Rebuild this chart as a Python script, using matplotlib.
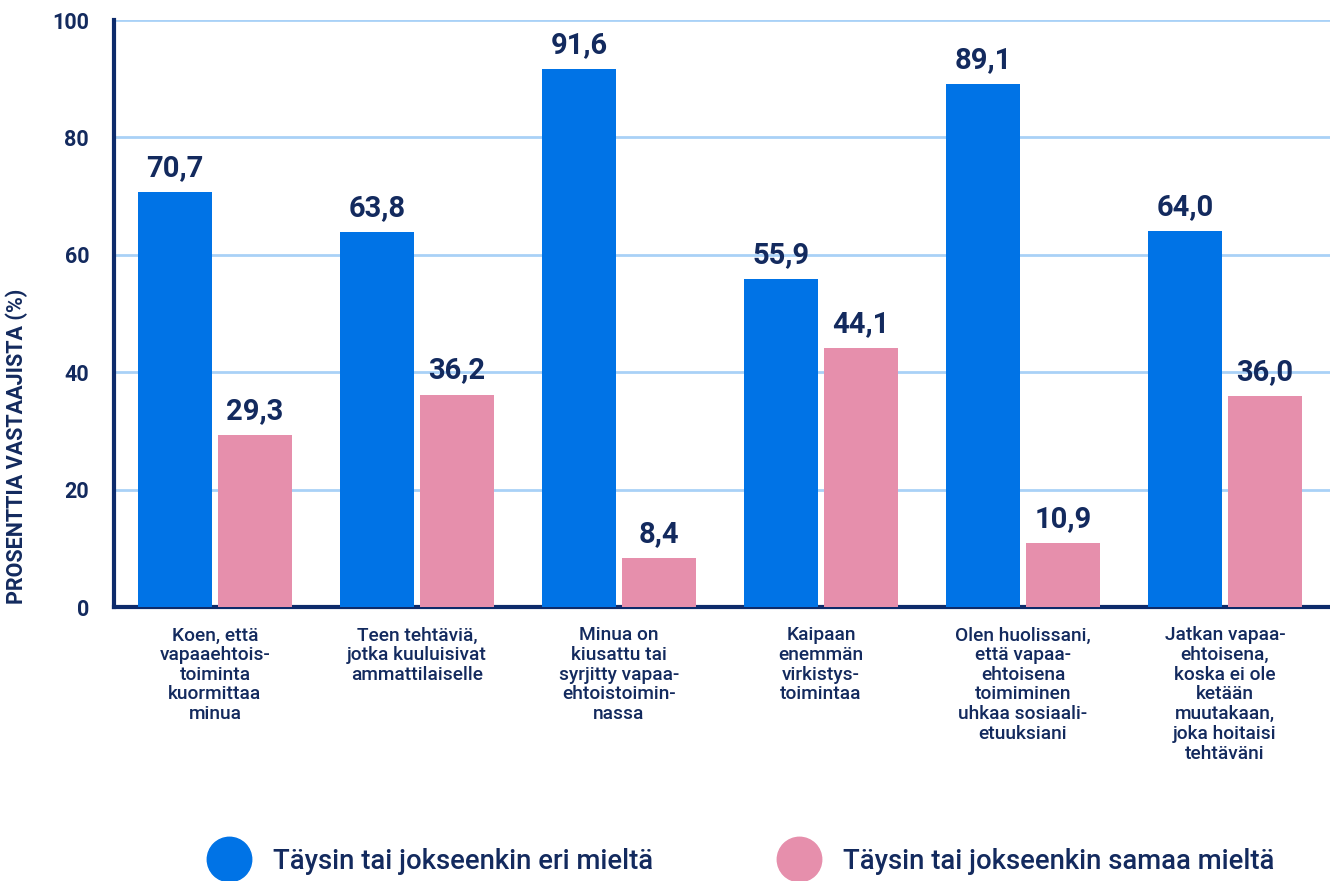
import matplotlib
matplotlib.use("Agg")
import matplotlib.pyplot as plt
from matplotlib.lines import Line2D
import numpy as np

categories = [
    "Koen, että\nvapaaehtois-\ntoiminta\nkuormittaa\nminua",
    "Teen tehtäviä,\njotka kuuluisivat\nammattilaiselle",
    "Minua on\nkiusattu tai\nsyrjitty vapaa-\nehtoistoimin-\nnassa",
    "Kaipaan\nenemmän\nvirkistys-\ntoimintaa",
    "Olen huolissani,\nettä vapaa-\nehtoisena\ntoimiminen\nuhkaa sosiaali-\netuuksiani",
    "Jatkan vapaa-\nehtoisena,\nkoska ei ole\nketään\nmuutakaan,\njoka hoitaisi\ntehtäväni",
]
series_names = ["Täysin tai jokseenkin eri mieltä", "Täysin tai jokseenkin samaa mieltä"]
disagree = [70.7, 63.8, 91.6, 55.9, 89.1, 64.0]
agree = [29.3, 36.2, 8.4, 44.1, 10.9, 36.0]
yticks = [0, 20, 40, 60, 80, 100]

BLUE = "#0073E6"
PINK = "#E68FAC"
NAVY = "#132A5E"
AXIS = "#0D2B6B"
GRID = "#A9D1F7"
FONT = ["Roboto", "DejaVu Sans"]

fig = plt.figure(figsize=(13.3, 8.81), dpi=100)
ax = fig.add_axes([114/1330, 274/881, 1216/1330, 587/881])

x = np.arange(len(categories))
w = 0.366
off = 0.198
b1 = ax.bar(x - off, disagree, w, color=BLUE, zorder=3)
b2 = ax.bar(x + off, agree, w, color=PINK, zorder=3)

def fmt(v):
    return f"{v:.1f}".replace(".", ",")

for bars, vals in ((b1, disagree), (b2, agree)):
    for rect, v in zip(bars, vals):
        ax.text(rect.get_x() + rect.get_width() / 2, v + 1.7, fmt(v),
                ha="center", va="bottom", fontsize=21, fontweight="bold",
                color=NAVY, family=FONT)

ax.set_xlim(-0.5, 5.52)
ax.set_ylim(0, 100)
ax.set_yticks(yticks)
ax.set_yticklabels([str(t) for t in yticks], fontsize=15.5, fontweight="bold",
                   color=NAVY, family=FONT)
ax.tick_params(axis="y", length=0, pad=18)
ax.set_xticks(x)
ax.set_xticklabels(categories, fontsize=13.8, color=NAVY, family=FONT,
                   fontweight="medium", linespacing=1.12, va="top")
ax.tick_params(axis="x", length=0, pad=14)

ax.yaxis.grid(True, color=GRID, linewidth=2, zorder=0)
ax.set_axisbelow(True)
for s in ("top", "right"):
    ax.spines[s].set_visible(False)
ax.spines["left"].set_color(AXIS)
ax.spines["left"].set_linewidth(3)
ax.spines["bottom"].set_color(AXIS)
ax.spines["bottom"].set_linewidth(3)

ax.set_ylabel("PROSENTTIA VASTAAJISTA (%)", fontsize=15.5, fontweight="bold",
              color=NAVY, family=FONT)
ax.yaxis.set_label_coords(-0.0705, 0.273)

handles = [Line2D([], [], marker="o", linestyle="", markersize=32, markerfacecolor=BLUE, markeredgecolor=BLUE),
           Line2D([], [], marker="o", linestyle="", markersize=32, markerfacecolor=PINK, markeredgecolor=PINK)]
leg = fig.legend(handles, series_names, loc="center", bbox_to_anchor=(0.555, 0.022),
                 ncol=2, frameon=False, handletextpad=0.6, columnspacing=4.3,
                 prop={"family": FONT, "size": 19.8, "weight": "medium"})
for t in leg.get_texts():
    t.set_color(NAVY)

fig.savefig("out.png", dpi=100)
